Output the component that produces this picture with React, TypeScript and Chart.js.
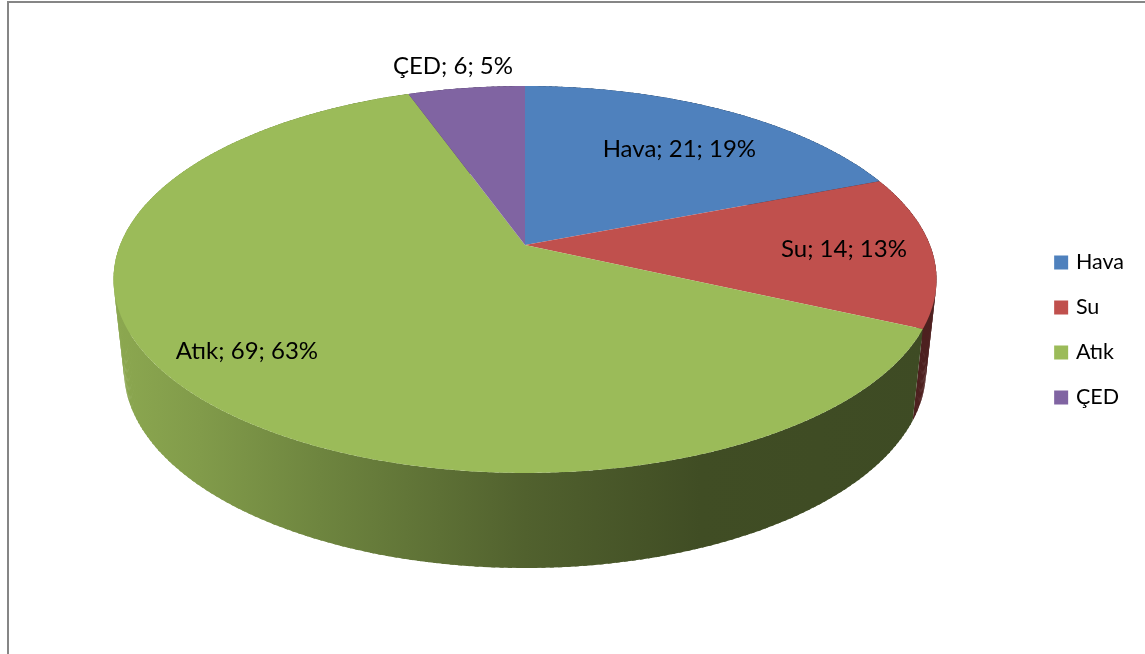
import React, { useEffect, useRef } from "react";
import { Chart, registerables } from "chart.js";

Chart.register(...registerables);

const categories = ["Hava", "Su", "Atık", "ÇED"];
const values = [21, 14, 69, 6];
const percents = [19, 13, 63, 5];
const colors = ["#4f81bd", "#c0504d", "#9bbb59", "#8064a2"];

const FONT = "Lato";
const LABEL_SIZE = 24;
const LEGEND_SIZE = 21.5;

// per-slice label placement: radius on the pie's unit circle + small pixel nudge
const labelRadius = [0.75, 0.785, 0.838, 1.17];
const labelNudgeX = [0, 0, 0, -5];
const labelNudgeY = [9, 0, -12, 0];

// wall shading: [pixel x, brightness]
const shade: [number, number][] = [
  [113, 0.9],
  [200, 0.83],
  [320, 0.71],
  [525, 0.52],
  [700, 0.41],
  [936, 0.4],
];

const top3d = { cx: 525, y0: 245, A: 404.9, B: 187.3, k: 0.1783 };
const low3d = { cx: 525, y0: 334.7, A: 394.6, B: 191.7, k: 0.1783 };

type Proj = typeof top3d;
const project = (p: Proj, a: number, r = 1) => {
  const x = r * Math.cos(a);
  const y = r * Math.sin(a);
  const w = 1 - p.k * y;
  return { x: p.cx + (p.A * x) / w, y: p.y0 + (p.B * y) / w };
};

const scaleColor = (hex: string, f: number) => {
  const n = parseInt(hex.slice(1), 16);
  const c = [(n >> 16) & 255, (n >> 8) & 255, n & 255].map((v) => Math.round(v * f));
  return `rgb(${c[0]},${c[1]},${c[2]})`;
};

const pie3d = {
  id: "pie3d",
  beforeDatasetsDraw(chart: any) {
    const ctx: CanvasRenderingContext2D = chart.ctx;
    const arcs = chart.getDatasetMeta(0).data;
    const step = Math.PI / 180;
    ctx.save();
    // side walls of each slice; the top surface covers the hidden part
    arcs.forEach((arc: any, i: number) => {
      const { startAngle, endAngle } = arc.getProps(["startAngle", "endAngle"], true);
      const grad = ctx.createLinearGradient(113, 0, 936, 0);
      shade.forEach(([x, f]) => grad.addColorStop((x - 113) / (936 - 113), scaleColor(colors[i], f)));
      ctx.fillStyle = grad;
      for (let a = startAngle; a < endAngle; a += step) {
        const b = Math.min(a + step * 1.5, endAngle);
        const p1 = project(top3d, a);
        const p2 = project(top3d, b);
        const p3 = project(low3d, b);
        const p4 = project(low3d, a);
        ctx.beginPath();
        ctx.moveTo(p1.x, p1.y);
        ctx.lineTo(p2.x, p2.y);
        ctx.lineTo(p3.x, p3.y);
        ctx.lineTo(p4.x, p4.y);
        ctx.closePath();
        ctx.fill();
      }
    });
    // top surface
    arcs.forEach((arc: any, i: number) => {
      const { startAngle, endAngle } = arc.getProps(["startAngle", "endAngle"], true);
      const c = project(top3d, 0, 0);
      ctx.beginPath();
      ctx.moveTo(c.x, c.y);
      for (let a = startAngle; a < endAngle; a += step / 2) {
        const p = project(top3d, a);
        ctx.lineTo(p.x, p.y);
      }
      const e = project(top3d, endAngle);
      ctx.lineTo(e.x, e.y);
      ctx.closePath();
      ctx.fillStyle = colors[i];
      ctx.fill();
    });
    ctx.restore();
    return false;
  },
  afterDraw(chart: any) {
    const ctx: CanvasRenderingContext2D = chart.ctx;
    const arcs = chart.getDatasetMeta(0).data;
    ctx.save();
    ctx.font = `${LABEL_SIZE}px ${FONT}`;
    ctx.fillStyle = "#000000";
    ctx.textAlign = "center";
    ctx.textBaseline = "middle";
    arcs.forEach((arc: any, i: number) => {
      const { startAngle, endAngle } = arc.getProps(["startAngle", "endAngle"], true);
      const p = project(top3d, (startAngle + endAngle) / 2, labelRadius[i]);
      ctx.fillText(
        `${categories[i]}; ${values[i]}; ${percents[i]}%`,
        p.x + labelNudgeX[i],
        p.y + labelNudgeY[i]
      );
    });
    ctx.restore();
  },
};

export default function App() {
  const ref = useRef<HTMLCanvasElement>(null);
  useEffect(() => {
    const chart = new Chart(ref.current!, {
      type: "pie",
      data: {
        labels: categories,
        datasets: [{ data: values, backgroundColor: colors, borderWidth: 0 }],
      },
      options: {
        responsive: false,
        animation: false,
        layout: { padding: { top: 6, right: 11 } },
        plugins: {
          tooltip: { enabled: false },
          legend: {
            position: "right",
            labels: {
              font: { family: FONT, size: LEGEND_SIZE },
              color: "#000000",
              boxWidth: 8,
              boxHeight: 8,
              padding: 23.5,
              generateLabels: (c: any) =>
                categories.map((text, i) => ({
                  text,
                  fillStyle: colors[i],
                  strokeStyle: colors[i],
                  lineWidth: 6,
                  index: i,
                  hidden: !c.getDataVisibility(i),
                })),
            },
          },
        },
      } as any,
      plugins: [pie3d as any],
    });
    return () => chart.destroy();
  }, []);
  return (
    <div style={{ position: "fixed", left: 0, top: 0, width: 1145, height: 654, overflow: "hidden", background: "#fff" }}>
      <canvas ref={ref} width={1145} height={654} style={{ display: "block" }} />
      <div
        style={{
          position: "absolute",
          left: 7,
          top: 1,
          width: 1200,
          height: 800,
          borderLeft: "2px solid #868686",
          borderTop: "2px solid #868686",
          pointerEvents: "none",
        }}
      />
    </div>
  );
}
